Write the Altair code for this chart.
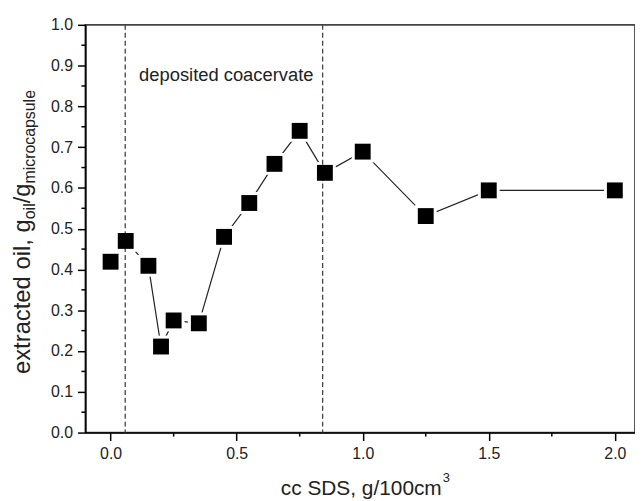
import altair as alt
import pandas as pd

# ---- data ----
sds = [0.0, 0.06, 0.15, 0.2, 0.25, 0.35, 0.45, 0.55, 0.65, 0.75, 0.85, 1.0, 1.25, 1.5, 2.0]
oil = [0.419, 0.470, 0.409, 0.211, 0.275, 0.268, 0.480, 0.563, 0.659, 0.740, 0.637, 0.689, 0.531, 0.594, 0.594]
dashed_x = [0.058, 0.841]
x_major = [0.0, 0.5, 1.0, 1.5, 2.0]
x_minor = [0.25, 0.75, 1.25, 1.75]
y_major = [0.0, 0.1, 0.2, 0.3, 0.4, 0.5, 0.6, 0.7, 0.8, 0.9, 1.0]
y_minor = [0.05, 0.15, 0.25, 0.35, 0.45, 0.55, 0.65, 0.75, 0.85, 0.95]
annot_text = ["deposited coacervate"]
annot_x = [0.113]
annot_y = [0.878]

FONT = "Liberation Sans"
W, H = 554, 411

# Arial / Liberation Sans advance widths (per 1000 em)
CW = {' ': 278, ',': 278, '/': 278, '.': 278, '0': 556, '1': 556, '3': 556,
      'a': 556, 'c': 500, 'd': 556, 'e': 556, 'g': 556, 'i': 222, 'l': 222,
      'm': 833, 'o': 556, 'p': 556, 'r': 333, 's': 500, 't': 278, 'u': 556,
      'x': 500, 'S': 667, 'D': 722}


def tw(s, size):
    return sum(CW.get(c, 556) for c in s) / 1000 * size


pts = pd.DataFrame({"sds": sds, "oil": oil})

xs = alt.Scale(domain=[-0.1, 2.08], nice=False, zero=False)
ys = alt.Scale(domain=[0, 1], nice=False, zero=False)
xax = alt.Axis(values=x_major, format=".1f", title="")
yax = alt.Axis(values=y_major, format=".1f", title="")


def XE(field):
    return alt.X(field, type="quantitative", scale=xs, axis=xax, title="")


def YE(field):
    return alt.Y(field, type="quantitative", scale=ys, axis=yax, title="")


line = alt.Chart(pts).mark_line(color="#222", strokeWidth=1.2).encode(x=XE("sds"), y=YE("oil"))
halo = alt.Chart(pts).mark_square(size=484, color="white", opacity=1).encode(x=XE("sds"), y=YE("oil"))
dashes = alt.Chart(pd.DataFrame({"d": dashed_x})).mark_rule(
    color="#444", strokeDash=[5, 3], strokeWidth=1.3
).encode(x=XE("d"))
squares = alt.Chart(pts).mark_square(size=256, color="black", opacity=1).encode(x=XE("sds"), y=YE("oil"))

yminor = alt.Chart(pd.DataFrame({"v": y_minor})).mark_rule(color="black", strokeWidth=1.5).encode(
    y=YE("v"), x=alt.value(-4), x2=alt.value(0))
xminor = alt.Chart(pd.DataFrame({"v": x_minor})).mark_rule(color="black", strokeWidth=1.5).encode(
    x=XE("v"), y=alt.value(H), y2=alt.value(H + 4))

annot = alt.Chart(pd.DataFrame({"t": annot_text, "x": annot_x, "y": annot_y})).mark_text(
    align="left", baseline="middle", font=FONT, fontSize=18.5, color="#222"
).encode(x=XE("x"), y=YE("y"), text="t:N")


def label(text, px, py, size, angle=0):
    kw = dict(align="left", baseline="alphabetic", font=FONT, fontSize=size, color="#222")
    if angle:
        kw["angle"] = angle
    return alt.Chart(pd.DataFrame({"t": [text]})).mark_text(**kw).encode(
        text="t:N", x=alt.value(px), y=alt.value(py))


# y axis title with subscripts (rotated, reading upward)
F, f = 24, 16
pieces = [("extracted oil, g", F, -56), ("oil", f, -51), ("/g", F, -56), ("microcapsule", f, -51)]
ytitle = []
cur = 352
for txt, size, bx in pieces:
    ytitle.append(label(txt, bx, cur, size, angle=270))
    cur -= tw(txt, size)

# x axis title with superscript
main_x = "cc SDS, g/100cm"
xt_x, xt_y, XF = 197, 474, 21
xtitle = [label(main_x, xt_x, xt_y, XF), label("3", xt_x + tw(main_x, XF) + 1, xt_y - 13, 13)]

chart = alt.layer(line, halo, dashes, squares, yminor, xminor, annot, *ytitle, *xtitle).properties(
    width=W, height=H,
    autosize=alt.AutoSizeParams(type="none"),
    padding={"left": 78, "top": 15, "right": 0, "bottom": 66},
).configure_view(
    stroke="#444", strokeWidth=1.8
).configure_axis(
    domainColor="black", domainWidth=1.5, tickColor="black", tickWidth=1.5, tickSize=8,
    labelFont=FONT, labelFontSize=16, labelColor="#222", labelPadding=5, grid=False
)

chart.save("out.html", embed_options={"renderer": "svg", "actions": False})
